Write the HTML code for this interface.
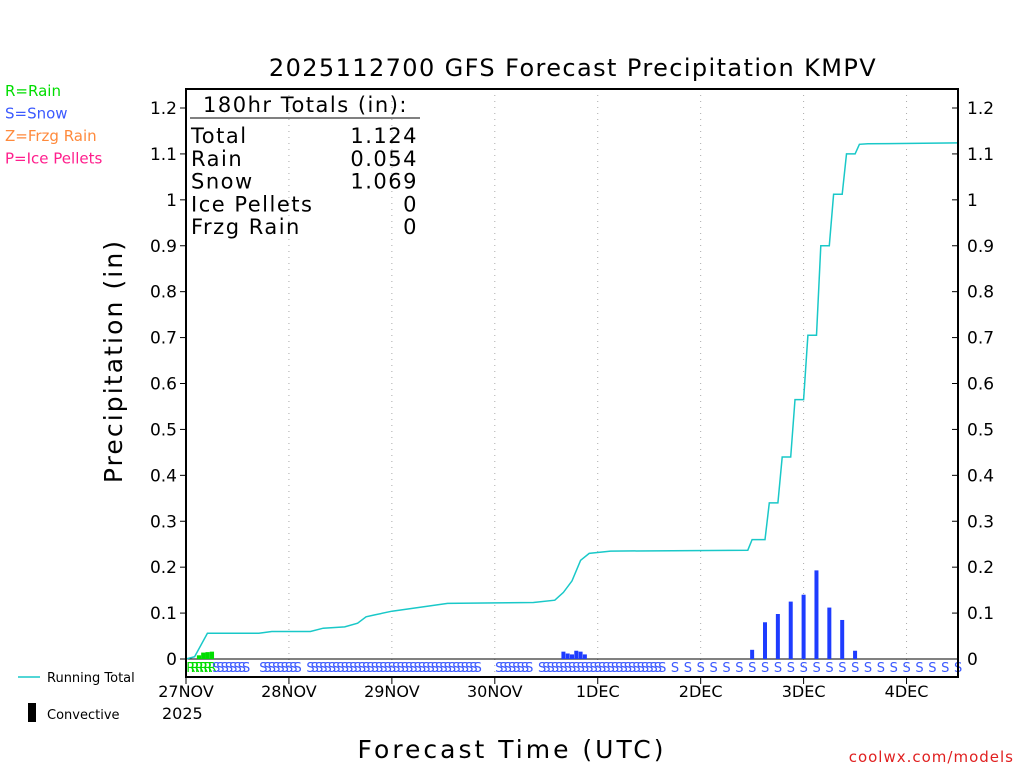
<!DOCTYPE html>
<html><head><meta charset="utf-8"><style>
body{margin:0;background:#fff}
svg{display:block;font-family:"DejaVu Sans","Liberation Sans",sans-serif}
</style></head><body>
<svg id="c" width="1024" height="768" xmlns="http://www.w3.org/2000/svg"></svg>
<script>
// ---- data ----
const dayLabels = ["27NOV","28NOV","29NOV","30NOV","1DEC","2DEC","3DEC","4DEC"];
const yTicks = [0,0.1,0.2,0.3,0.4,0.5,0.6,0.7,0.8,0.9,1,1.1,1.2];
const yTickLabels = ["0","0.1","0.2","0.3","0.4","0.5","0.6","0.7","0.8","0.9","1","1.1","1.2"];
const totHours = [0,2,5,17,20,29,32,37,40,42,44,48,54,61,81,86,88,90,92,94,99,131,132,135,136,138,139,141,142,144,145,147,148,150,151,153,154,156,157,159,180];
const totVals  = [0,0.005,0.056,0.056,0.06,0.06,0.067,0.07,0.078,0.092,0.096,0.104,0.112,0.121,0.123,0.128,0.145,0.17,0.215,0.23,0.235,0.237,0.26,0.26,0.34,0.34,0.44,0.44,0.565,0.565,0.705,0.705,0.9,0.9,1.012,1.012,1.1,1.1,1.121,1.122,1.124];
const barHours = [3,4,5,6,88,89,90,91,92,93,132,135,138,141,144,147,150,153,156];
const barVals  = [0.008,0.014,0.015,0.016,0.016,0.012,0.01,0.018,0.016,0.01,0.02,0.08,0.098,0.125,0.14,0.193,0.112,0.085,0.018];
const barType  = ["R","R","R","R","S","S","S","S","S","S","S","S","S","S","S","S","S","S","S"];
const totalsLabels = ["Total","Rain","Snow","Ice Pellets","Frzg Rain"];
const totalsValues = ["1.124","0.054","1.069","0","0"];

// ---- axes ----
const X0=186,X1=958,Y0=659,YT=89,H=180;
const x = h => X0 + h*(X1-X0)/H;
const y = v => Y0 - v*(659-108)/1.2;
const svg=document.getElementById('c');
const NS="http://www.w3.org/2000/svg";
function mk(tag,attrs,parent){const e=document.createElementNS(NS,tag);for(const k in attrs)e.setAttribute(k,attrs[k]);(parent||svg).appendChild(e);return e;}
function txt(s,attrs){const e=mk('text',attrs);e.textContent=s;return e;}

// grid
dayLabels.forEach((d,i)=>{ if(i===0)return;
  const g=mk('line',{x1:x(i*24),x2:x(i*24),y1:YT,y2:677,stroke:'#aaa','stroke-dasharray':'1,5'});
  
  
});
// zero line
const z=mk('line',{x1:X0,x2:X1,y1:Y0,y2:Y0,stroke:'#000','stroke-width':1});



// bars
barHours.forEach((h,i)=>{
  const b=mk('rect',{x:x(h)-2,y:y(barVals[i]),width:(barType[i]==='R'?4.3:4),height:Y0-y(barVals[i]),fill:barType[i]==='R'?'#00dd00':'#1e3cff'});
  
  
});

// running total
let d='';
totHours.forEach((h,i)=>{d+=(i?'L':'M')+x(h).toFixed(1)+' '+y(totVals[i]).toFixed(1)+' ';});
const p=mk('path',{d:d,fill:'none',stroke:'#19c8c8','stroke-width':1.5});



// type letters row
for(let h=1;h<=180;h++){
  let t=null;
  if(h<=6)t='R';
  else if(h<120){ if(!([15,16,17,27,28,69,70,71,72,81,82].includes(h)))t='S'; if(h>=112&&h%3!==0)t=null;}
  else if(h%3===0)t='S';
  if(!t)continue;
  const e=txt(t,{x:x(h)-4,y:672,'font-size':13,fill:t==='R'?'#00dd00':'#3c5aff'});
  
  
}

// frame
const fr=mk('rect',{x:X0,y:YT,width:X1-X0,height:677-YT,fill:'none',stroke:'#000','stroke-width':2});



// y ticks
yTicks.forEach((v,i)=>{
  mk('line',{x1:X0-6,x2:X0,y1:y(v),y2:y(v),stroke:'#000'});
  mk('line',{x1:X1-6,x2:X1,y1:y(v),y2:y(v),stroke:'#000'});
  const l=txt(yTickLabels[i],{x:X0-9,y:y(v)+6,'font-size':17,'text-anchor':'end',fill:'#000'});
  
  
  const r=txt(yTickLabels[i],{x:X1+9,y:y(v)+6,'font-size':17,fill:'#000'});
  
  
});
// x ticks
dayLabels.forEach((dl,i)=>{
  const xx=x(i*24);
  mk('line',{x1:xx,x2:xx,y1:677,y2:684,stroke:'#000'});
  const l=txt(dl,{x:xx,y:697,'font-size':16,'text-anchor':'middle',fill:'#000'});
  
  
});
const yr=txt('2025',{x:162,y:719,'font-size':16,fill:'#000'});



// titles
const t=txt('2025112700 GFS Forecast Precipitation KMPV',{x:573,y:76,'font-size':24,'text-anchor':'middle',fill:'#000','letter-spacing':'1.4'});


const xt=txt('Forecast Time (UTC)',{x:512,y:758,'font-size':25,'text-anchor':'middle',fill:'#000','letter-spacing':'3'});


const yt=txt('Precipitation (in)',{x:0,y:0,'font-size':25,'text-anchor':'middle',fill:'#000','letter-spacing':'2.1',transform:'translate(122,361) rotate(-90)'});


const cr=txt('coolwx.com/models',{x:1014,y:762,'font-size':15,'text-anchor':'end',fill:'#e02020','letter-spacing':'1'});



// ptype key
[["R=Rain","#00dd00"],["S=Snow","#3c5aff"],["Z=Frzg Rain","#ff8a3c"],["P=Ice Pellets","#ff1e8c"]].forEach((k,i)=>{
  const e=txt(k[0],{x:5,y:96+i*22.5,'font-size':15,fill:k[1]});
  
  
});

// legend
mk('line',{x1:18,x2:40,y1:677,y2:677,stroke:'#19c8c8','stroke-width':1.5});
const lg1=txt('Running Total',{x:47,y:682,'font-size':13,fill:'#000'});


mk('rect',{x:28,y:703,width:8,height:19,fill:'#000'});
const lg2=txt('Convective',{x:47,y:719,'font-size':13,fill:'#000'});



// totals box
const th=txt('180hr Totals (in):',{x:203,y:112,'font-size':21,fill:'#000','letter-spacing':'1.5'});


mk('line',{x1:190,x2:420,y1:118,y2:118,stroke:'#000'});
totalsLabels.forEach((lab,i)=>{
  const a=txt(lab,{x:191,y:143+i*22.8,'font-size':21,fill:'#000','letter-spacing':'1.5'});
  
  
  const b=txt(totalsValues[i],{x:418,y:143+i*22.8,'font-size':21,'text-anchor':'end',fill:'#000','letter-spacing':'1.5'});
  
  
});
</script>
</body></html>
